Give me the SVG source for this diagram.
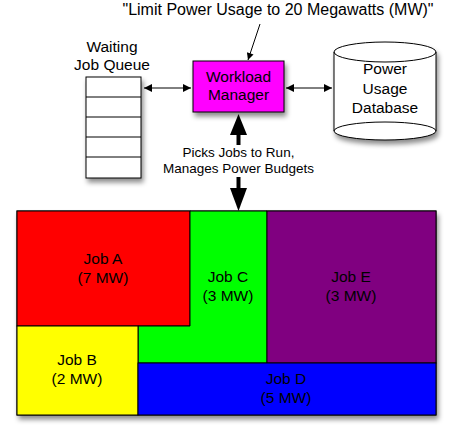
<svg xmlns="http://www.w3.org/2000/svg" width="450" height="434" viewBox="0 0 450 434">
<style>
text{font-family:"Liberation Sans",Arial,sans-serif;fill:#000;text-anchor:middle}
.lbl{font-size:15.5px}
.q{font-size:16px}
.sm{font-size:13.5px}
.ln{stroke:#000;stroke-width:1;fill:none}
.job{stroke:#000;stroke-width:1}
</style>
<defs>
<filter id="sh" x="-10%" y="-10%" width="130%" height="140%">
<feDropShadow dx="2" dy="4" stdDeviation="2.5" flood-color="#000" flood-opacity="0.45"/>
</filter>
<marker id="ah" viewBox="0 0 10 10" refX="10" refY="5" markerWidth="10" markerHeight="8" markerUnits="userSpaceOnUse" orient="auto-start-reverse">
<path d="M0,0 L10,5 L0,10 z" fill="#000"/>
</marker>
<marker id="ahs" viewBox="0 0 10 10" refX="10" refY="5" markerWidth="8" markerHeight="7" markerUnits="userSpaceOnUse" orient="auto">
<path d="M0,0 L10,5 L0,10 z" fill="#000"/>
</marker>
</defs>

<g id="quote">
<text class="q" x="278" y="15">"Limit Power Usage to 20 Megawatts (MW)"</text>
</g>

<g id="queue">
<text class="lbl" x="112" y="52">Waiting</text>
<text class="lbl" x="112" y="70">Job Queue</text>
<rect x="86" y="77" width="55" height="101" fill="#fff" stroke="#000" filter="url(#sh)"/>
<path class="ln" d="M86,97H141M86,117H141M86,137H141M86,157H141"/>
</g>

<g id="manager">
<rect x="193" y="61" width="91" height="51" fill="#ff00ff" stroke="#000" filter="url(#sh)"/>
<text class="lbl" x="238.5" y="82">Workload</text>
<text class="lbl" x="238.5" y="100">Manager</text>
</g>

<g id="database">
<path d="M334,52 V131 A51,9 0 0 0 436,131 V52 A51,10 0 0 0 334,52 z" fill="#fff" stroke="#000" filter="url(#sh)"/>
<path class="ln" d="M334,52 A51,10 0 0 0 436,52"/>
<path class="ln" d="M334,131 A51,9 0 0 1 436,131"/>
<text class="lbl" x="385" y="74">Power</text>
<text class="lbl" x="385" y="94">Usage</text>
<text class="lbl" x="385" y="113">Database</text>
</g>

<g id="jobs">
<rect x="17" y="211" width="419" height="204" fill="#fff" stroke="#000" filter="url(#sh)"/>
<g id="jobA"><rect class="job" x="17" y="211" width="173" height="115" fill="#ff0000"/>
<text class="lbl" x="103" y="264">Job A</text><text class="lbl" x="103" y="283">(7 MW)</text></g>
<g id="jobC"><path class="job" d="M190,211H267V363H138V326H190z" fill="#00ff00"/>
<text class="lbl" x="228" y="282">Job C</text><text class="lbl" x="228" y="301">(3 MW)</text></g>
<g id="jobE"><rect class="job" x="267" y="211" width="169" height="152" fill="#800080"/>
<text class="lbl" x="351" y="282">Job E</text><text class="lbl" x="351" y="301">(3 MW)</text></g>
<g id="jobB"><rect class="job" x="17" y="326" width="121" height="89" fill="#ffff00"/>
<text class="lbl" x="77" y="365">Job B</text><text class="lbl" x="77" y="384">(2 MW)</text></g>
<g id="jobD"><rect class="job" x="138" y="363" width="298" height="52" fill="#0000ff"/>
<text class="lbl" x="286" y="384">Job D</text><text class="lbl" x="286" y="403">(5 MW)</text></g>
</g>

<g id="connectors">
<line class="ln" x1="260" y1="24" x2="248" y2="60" marker-end="url(#ahs)"/>
<line class="ln" x1="144" y1="88" x2="191" y2="88" marker-start="url(#ah)" marker-end="url(#ah)"/>
<line class="ln" x1="286" y1="88" x2="332" y2="88" marker-start="url(#ah)" marker-end="url(#ah)"/>
<line x1="238.5" y1="133" x2="238.5" y2="145" stroke="#000" stroke-width="4"/>
<path d="M238.5,114 L247,135 L230,135 z" fill="#000"/>
<line x1="238.5" y1="177" x2="238.5" y2="190" stroke="#000" stroke-width="4"/>
<path d="M238.5,211 L247,188 L230,188 z" fill="#000"/>
<text class="sm" x="238.5" y="157">Picks Jobs to Run,</text>
<text class="sm" x="238.5" y="173">Manages Power Budgets</text>
</g>
</svg>
